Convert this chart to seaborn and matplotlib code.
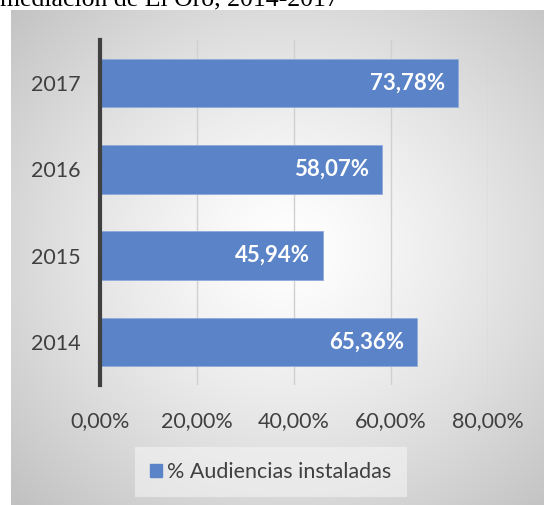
import numpy as np
import pandas as pd
import matplotlib
matplotlib.use("Agg")
import matplotlib.pyplot as plt
import seaborn as sns
from matplotlib.patches import Patch

years = ["2017", "2016", "2015", "2014"]
values = [73.78, 58.07, 45.94, 65.36]
value_labels = ["73,78%", "58,07%", "45,94%", "65,36%"]
tick_values = [0, 20, 40, 60, 80]
tick_labels = ["0,00%", "20,00%", "40,00%", "60,00%", "80,00%"]
series_name = "% Audiencias instaladas"
title_text = "mediación de El Oro, 2014-2017"

sns.set_theme(style="white")
plt.rcParams["font.family"] = ["Lato", "DejaVu Sans"]

df = pd.DataFrame({"year": years, "value": values})

fig = plt.figure(figsize=(5.44, 5.05), dpi=100)
fig.patch.set_facecolor("white")

# gradient background panel
bg = fig.add_axes([11 / 544, 0, 1 - 11 / 544, 1 - 10 / 505], zorder=0)
h, w = 300, 300
yy, xx = np.mgrid[0:h, 0:w]
cx, cy = w * 0.52, h * 0.48
r = np.sqrt(((xx - cx) / w) ** 2 + ((yy - cy) / h) ** 2) / 0.72
r = np.clip(r, 0, 1)
shade = 1.0 - 0.24 * r ** 1.3
img = np.dstack([shade, shade, shade])
bg.imshow(img, aspect="auto", extent=[0, 1, 0, 1], interpolation="bilinear")
bg.set_axis_off()

ax = fig.add_axes([100 / 544, 1 - 385 / 505, (488 - 100) / 544, (385 - 40) / 505], zorder=1)
ax.patch.set_alpha(0)

sns.barplot(data=df, x="value", y="year", order=years, orient="h",
            color="#5b84c8", saturation=1, width=0.56, ax=ax, zorder=3,
            edgecolor="#8eaadb", linewidth=0.6)

ax.set_xlim(0, 80)
ax.set_xticks(tick_values)
ax.set_xticklabels(tick_labels)
ax.set_xlabel("")
ax.set_ylabel("")
ax.grid(axis="x", color="#d0d0d0", linewidth=1, zorder=0)
ax.grid(axis="y", visible=False)
for s in ["top", "right", "bottom"]:
    ax.spines[s].set_visible(False)
ax.spines["left"].set_color("#404040")
ax.spines["left"].set_linewidth(3)
ax.spines["left"].set_zorder(5)
ax.tick_params(axis="x", length=0, pad=19, labelsize=15.5, labelcolor="#404040")
ax.tick_params(axis="y", length=0, pad=14, labelsize=15.5, labelcolor="#404040")

for i, (v, lab) in enumerate(zip(values, value_labels)):
    ax.text(v - 2.6, i, lab, ha="right", va="center", color="white",
            fontsize=16, fontweight="bold", zorder=6)

leg = fig.legend(handles=[Patch(facecolor="#5b84c8", edgecolor="#5b84c8", label=series_name)],
                 loc="center", bbox_to_anchor=(271 / 544, 1 - 472 / 505),
                 frameon=True, fontsize=15.5, handlelength=0.55, handleheight=0.55,
                 handletextpad=0.25, borderpad=0.7, borderaxespad=0)
leg.get_frame().set_facecolor("#f4f4f4")
leg.get_frame().set_alpha(0.6)
leg.get_frame().set_edgecolor("none")
leg.get_frame().set_boxstyle("square", pad=0)
for t in leg.get_texts():
    t.set_color("#404040")
leg.set_zorder(4)

fig.text(0.0, 1 - 5 / 505, title_text, ha="left", va="baseline",
         fontsize=18.5, color="black", family=["Liberation Serif", "DejaVu Serif"])

fig.savefig("out.png", dpi=100)
